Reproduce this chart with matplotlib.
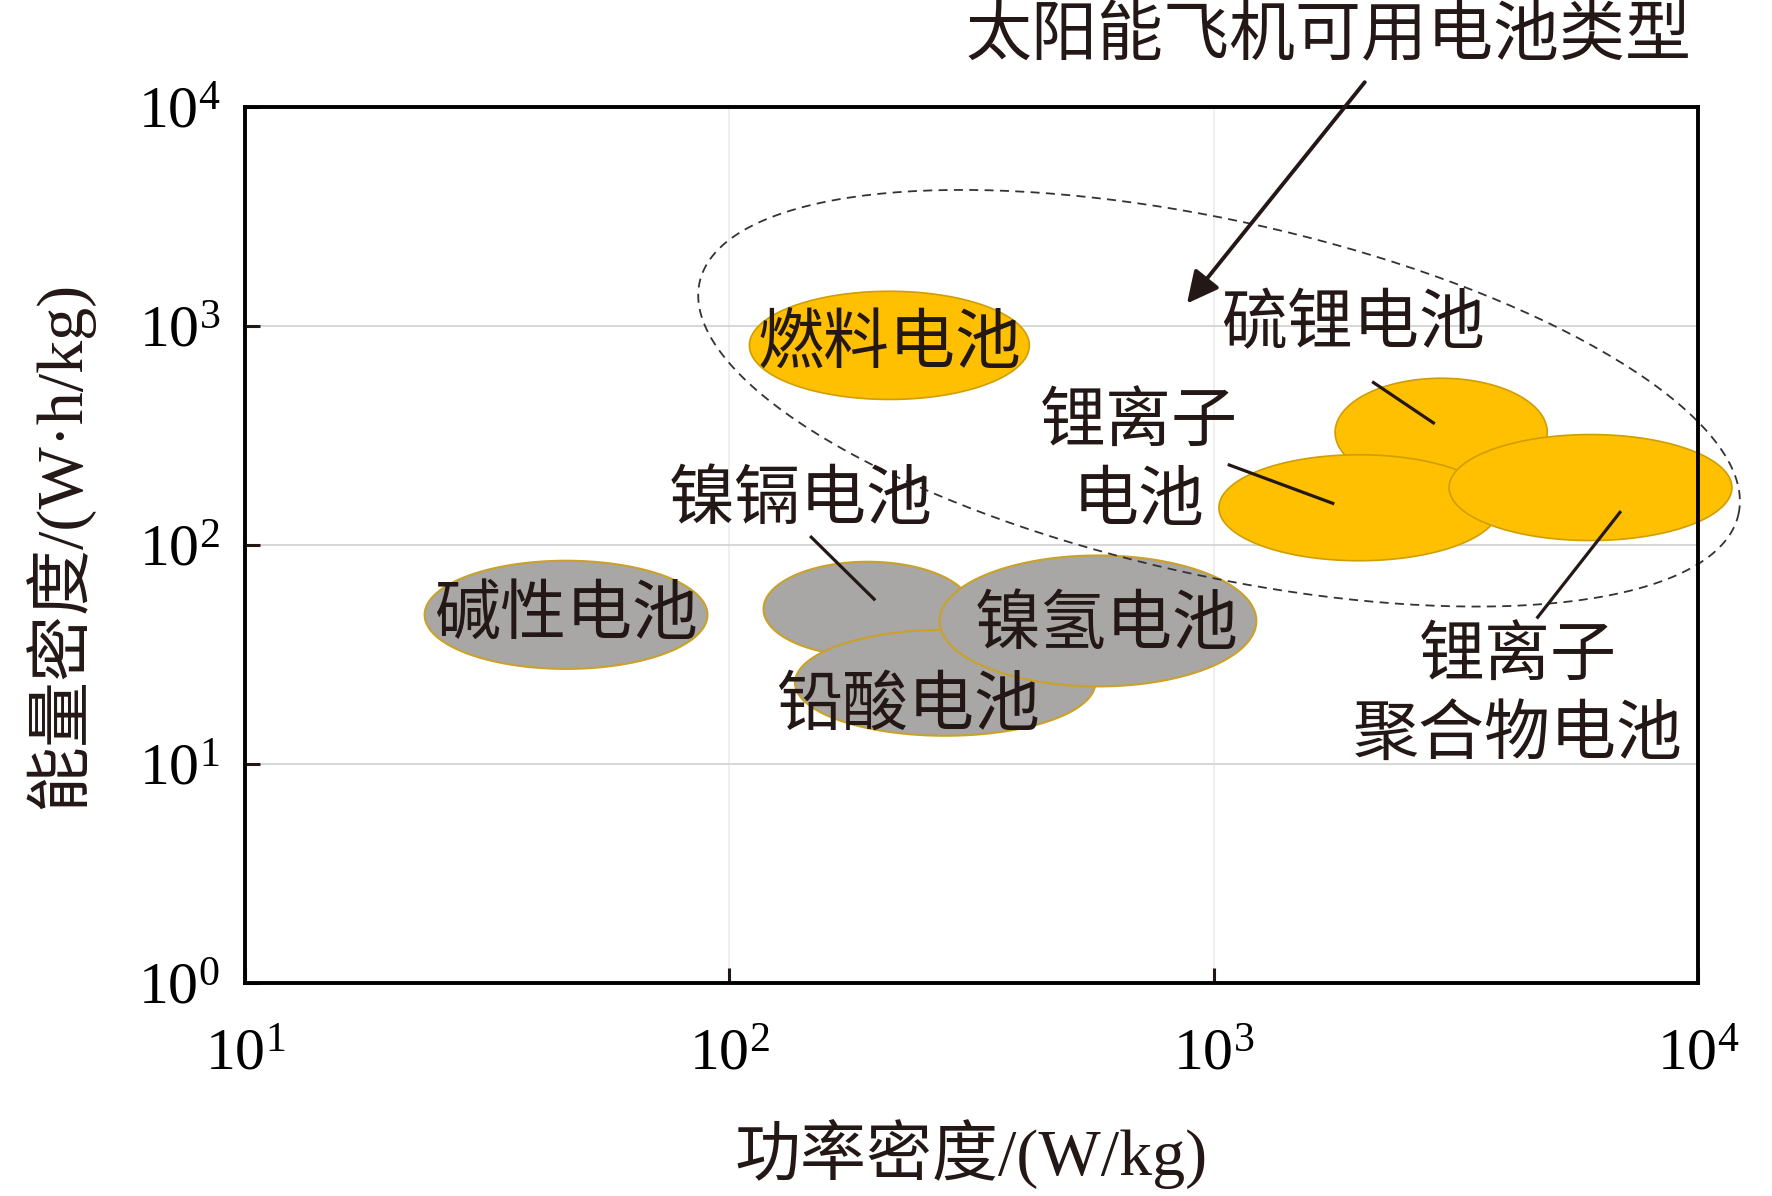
import numpy as np
import matplotlib
matplotlib.use("Agg")
import matplotlib.pyplot as plt

#___battery data (centre of each region, half-size in decades)___#
battery = ["碱性电池", "镍镉电池", "铅酸电池", "镍氢电池",
           "燃料电池", "硫锂电池", "锂离子电池", "锂离子聚合物电池"]
power_c = [46, 193, 279, 577, 214, 2950, 1995, 6000]      # W/kg
energy_c = [48, 51, 23.5, 45, 816, 327, 148, 183]         # W.h/kg
x_half = [0.292, 0.215, 0.310, 0.327, 0.289, 0.219, 0.289, 0.292]
y_half = [0.247, 0.216, 0.242, 0.299, 0.247, 0.247, 0.242, 0.242]
usable = [False, False, False, False, True, True, True, True]

# dashed envelope of the solar-aircraft batteries
ring_c = (1026, 468)
ring_a, ring_b, ring_ang = 1.099, 0.366, -12.6   # decades (x units), degrees

cjk = ["Noto Sans CJK SC"]
mixed = ["Liberation Serif", "Noto Sans CJK SC"]
ink = "#231815"
fs = 47.5

fig = plt.figure(figsize=(17.72, 11.96), dpi=100)
ax = fig.add_axes([0.1383, 0.1781, 0.8199, 0.7324])
ax.set_xscale("log")
ax.set_yscale("log")
ax.set_xlim(10, 1e4)
ax.set_ylim(1, 1e4)

t = np.linspace(0, 2 * np.pi, 300)

#___draw the regions___#
for i in range(len(battery)):
    ex = 10 ** (np.log10(power_c[i]) + x_half[i] * np.cos(t))
    ey = 10 ** (np.log10(energy_c[i]) + y_half[i] * np.sin(t))
    if usable[i]:
        ax.fill(ex, ey, facecolor="#FEC000", edgecolor="#D09E00", lw=1.2, zorder=4, clip_on=False)
    else:
        ax.fill(ex, ey, facecolor="#A9A6A6", edgecolor="#C9A227", lw=1.5, zorder=2, clip_on=False)

#___dashed envelope___#
aspect = (876 / 4) / (1453 / 3)   # y-decade length / x-decade length on screen
th = np.radians(ring_ang)
dx = ring_a * np.cos(t) * np.cos(th) - ring_b * np.sin(t) * np.sin(th)
dy = (ring_a * np.cos(t) * np.sin(th) + ring_b * np.sin(t) * np.cos(th)) / aspect
ax.plot(10 ** (np.log10(ring_c[0]) + dx), 10 ** (np.log10(ring_c[1]) + dy),
        color="#333333", lw=1.3, ls=(0, (5, 3.5)), zorder=3, clip_on=False)

#___labels inside the regions___#
ax.text(power_c[0], energy_c[0], "碱性电池", family=cjk, fontsize=fs, ha="center", va="center", color=ink, zorder=6)
ax.text(power_c[4], energy_c[4], "燃料电池", family=cjk, fontsize=fs, ha="center", va="center", color=ink, zorder=6)
ax.text(600, 43, "镍氢电池", family=cjk, fontsize=fs, ha="center", va="center", color=ink, zorder=6)
ax.text(234, 18.5, "铅酸电池", family=cjk, fontsize=fs, ha="center", va="center", color=ink, zorder=6)

#___labels with leader lines___#
ax.text(140.6, 160.7, "镍镉电池", family=cjk, fontsize=fs, ha="center", va="center", color=ink, zorder=6)
ax.plot([147.6, 199], [108.6, 56.6], color=ink, lw=2.3, zorder=6)

ax.text(1941, 1011, "硫锂电池", family=cjk, fontsize=fs, ha="center", va="center", color=ink, zorder=6)
ax.plot([2138, 2844], [552, 361], color=ink, lw=2.3, zorder=6)

ax.text(700, 238, "锂离子\n电池", family=cjk, fontsize=fs, ha="center", va="center",
        multialignment="center", linespacing=1.2, color=ink, zorder=6)
ax.plot([1077, 1762], [232, 155], color=ink, lw=2.3, zorder=6)

ax.text(4256, 20.4, "锂离子\n聚合物电池", family=cjk, fontsize=fs, ha="center", va="center",
        multialignment="center", linespacing=1.2, color=ink, zorder=6, clip_on=False)
ax.plot([6902, 4667], [141, 46.8], color=ink, lw=2.3, zorder=6)

#___callout arrow and note___#
ax.annotate("", xy=(881, 1268), xytext=(2051, 12980),
            arrowprops=dict(arrowstyle="-|>", color=ink, lw=2.8, mutation_scale=48,
                            shrinkA=0, shrinkB=0), annotation_clip=False, zorder=7)
ax.text(1726, 20900, "太阳能飞机可用电池类型", family=cjk, fontsize=fs, ha="center", va="center",
        color=ink, clip_on=False)

#___axes formatting___#
ax.set_xticks([10, 100, 1000, 10000])
ax.set_yticks([1, 10, 100, 1000, 10000])
ax.minorticks_off()
ax.tick_params(direction="in", length=11, width=2.2, color=ink, labelsize=43,
               labelfontfamily="Liberation Serif")
ax.tick_params(axis="x", pad=33)
ax.tick_params(axis="y", pad=18)
ax.grid(axis="y", color="#D4D4D4", lw=1.3)
ax.grid(axis="x", color="#EEEEEE", lw=1.3)
ax.set_axisbelow(True)
for s in ax.spines.values():
    s.set_linewidth(2.8)
    s.set_color("black")
    s.set_zorder(5)

ax.set_xlabel("功率密度/(W/kg)", family=mixed, fontsize=fs, color=ink, labelpad=26)
ax.set_ylabel("能量密度/(W·h/kg)", family=mixed, fontsize=fs, color=ink, labelpad=32)

fig.savefig("out.png", dpi=100)
